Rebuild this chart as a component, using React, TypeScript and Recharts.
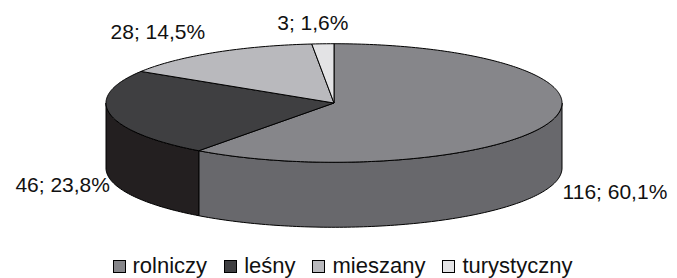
import { Cell, Legend, Pie, PieChart } from "recharts";

const categories = ["rolniczy", "leśny", "mieszany", "turystyczny"];
const counts = [116, 46, 28, 3];
const topColors = ["#86868a", "#3f3f41", "#b9b9bd", "#e3e3e5"];
const sideColors = ["#68686c", "#231f20", "#8e8e92", "#b4b4b6"];

const TILT = 0.26; // vertical squash of the pie top
const DEPTH = 65; // thickness of the disc in px
const RAD = Math.PI / 180;

const data = categories.map((name, i) => ({ name, value: counts[i] }));

function rim(cx: number, cy: number, r: number, angle: number, dy = 0) {
  return [cx + r * Math.cos(angle * RAD), cy - r * TILT * Math.sin(angle * RAD) + dy];
}

function arcPoints(cx: number, cy: number, r: number, a0: number, a1: number, dy = 0) {
  const steps = Math.max(2, Math.ceil(Math.abs(a1 - a0)));
  const pts: number[][] = [];
  for (let s = 0; s <= steps; s++) {
    pts.push(rim(cx, cy, r, a0 + ((a1 - a0) * s) / steps, dy));
  }
  return pts;
}

function Slice3D(props: any) {
  const { cx, cy, outerRadius, startAngle, endAngle, fill } = props;
  const idx = topColors.indexOf(fill);
  const side = sideColors[idx >= 0 ? idx : 0];
  const lo = Math.min(startAngle, endAngle);
  const hi = Math.max(startAngle, endAngle);

  // front wall: the parts of the arc where the rim faces the viewer
  const walls: string[] = [];
  for (let k = -2; k <= 2; k++) {
    const b0 = Math.max(lo, -180 + 360 * k);
    const b1 = Math.min(hi, 360 * k);
    if (b1 - b0 > 0.01) {
      const top = arcPoints(cx, cy, outerRadius, b0, b1);
      const bottom = arcPoints(cx, cy, outerRadius, b1, b0, DEPTH);
      const pts = [...top, ...bottom].map((p) => `${p[0].toFixed(2)},${p[1].toFixed(2)}`);
      walls.push(`M${pts.join("L")}Z`);
    }
  }

  const topPts = arcPoints(cx, cy, outerRadius, startAngle, endAngle).map(
    (p) => `${p[0].toFixed(2)},${p[1].toFixed(2)}`,
  );
  const topPath = `M${cx},${cy}L${topPts.join("L")}Z`;

  return (
    <g>
      {walls.map((d, i) => (
        <path key={i} d={d} fill={side} stroke="#000" strokeWidth={1} strokeLinejoin="round" />
      ))}
      <path d={topPath} fill={fill} stroke="#000" strokeWidth={1} strokeLinejoin="round" />
    </g>
  );
}

function renderLabel(props: any) {
  const { cx, cy, outerRadius, midAngle, value, percent } = props;
  const cos = Math.cos(midAngle * RAD);
  const sin = Math.sin(midAngle * RAD);
  const front = sin < 0;
  const [rx, ry] = rim(cx, cy, outerRadius, midAngle);
  let anchor: "start" | "end" | "middle" = "middle";
  let x = rx - 10;
  if (cos > 0.2) {
    anchor = "start";
    x = rx + 12;
  } else if (cos < -0.2) {
    anchor = "end";
    x = front ? rx : rx - 9;
  }
  const y = front ? ry + DEPTH + 5 : ry - 21;
  const pct = (percent * 100).toFixed(1).replace(".", ",");
  return (
    <text
      x={x}
      y={y}
      textAnchor={anchor}
      dominantBaseline="central"
      fill="#111"
      fontSize={21}
      fontFamily="'Liberation Sans', Arial, sans-serif"
    >
      {`${value}; ${pct}%`}
    </text>
  );
}

function LegendContent() {
  return (
    <div
      style={{
        display: "flex",
        justifyContent: "center",
        alignItems: "center",
        gap: 17,
        height: 24,
        lineHeight: "24px",
        fontFamily: "'Liberation Sans', Arial, sans-serif",
        fontSize: 22,
        color: "#111",
        paddingLeft: 8,
      }}
    >
      {categories.map((name, i) => (
        <span key={name} style={{ display: "flex", alignItems: "center", gap: 7 }}>
          <span
            style={{
              display: "inline-block",
              width: 11,
              height: 11,
              background: topColors[i],
              border: "1px solid #000",
            }}
          />
          <span>{name}</span>
        </span>
      ))}
    </div>
  );
}

export default function App() {
  return (
    <div style={{ position: "absolute", left: 0, top: 0, width: 677, height: 278, background: "#fff" }}>
      <PieChart width={677} height={278} margin={{ top: 0, right: 0, bottom: 0, left: 0 }}>
        <Pie
          data={data}
          dataKey="value"
          nameKey="name"
          cx={334}
          cy={103}
          outerRadius={228}
          startAngle={90}
          endAngle={-270}
          stroke="none"
          shape={Slice3D}
          label={renderLabel}
          labelLine={false}
          isAnimationActive={false}
        >
          {data.map((d, i) => (
            <Cell key={d.name} fill={topColors[i]} />
          ))}
        </Pie>
        <Legend verticalAlign="bottom" content={LegendContent} wrapperStyle={{ bottom: 0 }} />
      </PieChart>
    </div>
  );
}
